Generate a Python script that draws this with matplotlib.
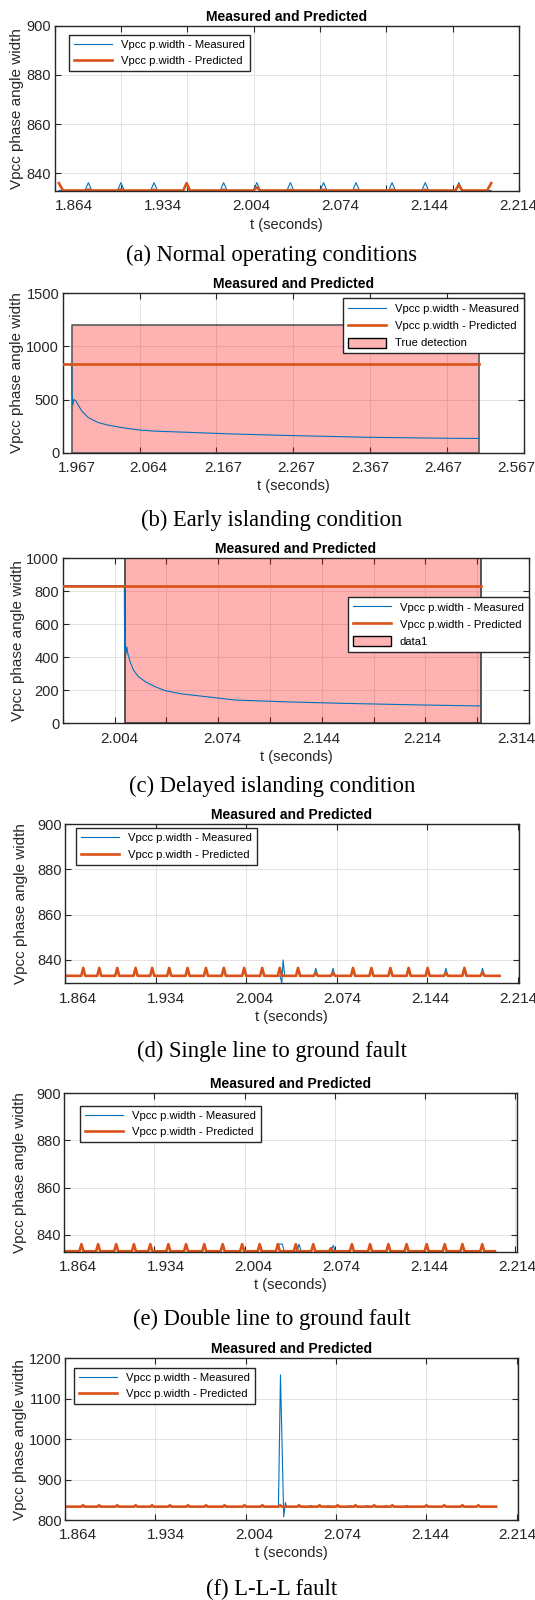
import numpy as np
import matplotlib
matplotlib.use('Agg')
import matplotlib.pyplot as plt
import matplotlib.patches as mpatches

W, H = 535, 1600
plt.rcParams['font.family'] = ['Liberation Sans', 'DejaVu Sans']

BLUE = '#0072BD'
ORANGE = '#D95319'
PINK = '#FFB3B3'
DARK = '#262626'

captions = ['(a) Normal operating conditions', '(b) Early islanding condition',
            '(c) Delayed islanding condition', '(d) Single line to ground fault',
            '(e) Double line to ground fault', '(f) L-L-L fault']

# (a) normal operation: spike times / heights
a_ticks = ['1.864', '1.934', '2.004', '2.074', '2.144', '2.214']
a_peak_t = [1.8756, 1.9012, 1.9273, 1.9529, 1.9820, 2.0081, 2.0345, 2.0606, 2.0862, 2.1145, 2.1406, 2.1670]
a_meas_y = [836.2] * 12
a_pred_y = [833.4, 833.4, 833.3, 836.0, 833.3, 834.3, 833.2, 833.3, 833.2, 833.3, 833.3, 835.2]
a_pred_end_t = [1.8524, 2.1925]
a_pred_end_y = [836.0, 836.0]

# (b) early islanding
b_ticks = ['1.967', '2.064', '2.167', '2.267', '2.367', '2.467', '2.567']
b_meas_t = [1.9474, 1.9597, 1.9600, 1.9612, 1.9625, 1.9651, 1.9732, 1.9822, 1.9958, 2.0094,
            2.0276, 2.0501, 2.0728, 2.1180, 2.1562, 2.1814, 2.2613, 2.3646, 2.4697, 2.5158]
b_meas_y = [833, 833, 568, 449, 500, 490, 395, 331, 284, 259,
            237, 215, 203, 192, 182, 176, 161, 145, 136, 134]
b_pred_t = [1.9474, 2.5158]
b_pred_y = [833, 833]
b_detect = (1.9599, 2.5158, 1200)

# (c) delayed islanding
c_ticks = ['2.004', '2.074', '2.144', '2.214', '2.314']
c_tick_pos = [2.004, 2.0757, 2.144, 2.2141, 2.2793]
c_meas_t = [1.9648, 2.0075, 2.0077, 2.0080, 2.0085, 2.0092, 2.0099, 2.0115, 2.0138, 2.0172,
            2.0219, 2.0288, 2.0357, 2.0473, 2.0635, 2.0843, 2.1200, 2.1587, 2.2140, 2.2549]
c_meas_y = [834, 834, 444, 509, 414, 464, 424, 374, 323, 283,
            253, 222, 198, 178, 162, 141, 130, 121, 111, 105]
c_pred_t = [1.9648, 2.2549]
c_pred_y = [834, 834]
c_detect = (2.0082, 2.2549, 1000)

fault_ticks = ['1.864', '1.934', '2.004', '2.074', '2.144', '2.214']

# (d) single line to ground
d_pred_t = [1.8681, 1.8808, 1.8951, 1.9097, 1.9229, 1.9364, 1.9510, 1.9656, 1.9798, 1.9960, 2.0103, 2.0243,
            2.0388, 2.0529, 2.0666, 2.0825, 2.0971, 2.1122, 2.1267, 2.1418, 2.1563, 2.1710, 2.1854]
d_pred_y = [836.5] * 13 + [834.3, 834.3] + [836.5] * 5 + [834.3, 836.5, 834.5]
d_meas_t = [1.8681, 1.8808, 1.8951, 1.9097, 1.9229, 1.9364, 1.9510, 1.9656, 1.9798, 1.9960, 2.0103,
            2.0388, 2.0529, 2.0666, 2.0825, 2.0971, 2.1122, 2.1267, 2.1418, 2.1563, 2.1710, 2.1854]
d_meas_y = [836.3] * 22
d_glitch_t = [2.0245, 2.0259, 2.0269, 2.0282]
d_glitch_y = [833, 829.7, 840, 833]

# (e) double line to ground
e_pred_t = [1.8667, 1.8800, 1.8944, 1.9085, 1.9216, 1.9360, 1.9501, 1.9646, 1.9793, 1.9948, 2.0088, 2.0233,
            2.0376, 2.0515, 2.0656, 2.0823, 2.0968, 2.1114, 2.1259, 2.1419, 2.1563, 2.1704, 2.1862]
e_pred_y = [836.0] * 14 + [834.3] + [836.0] * 8
e_meas_t = [1.8667, 1.8800, 1.8944, 1.9085, 1.9216, 1.9360, 1.9501, 1.9646, 1.9793, 1.9948, 2.0088,
            2.0402, 2.0515, 2.0674, 2.0823, 2.0968, 2.1114, 2.1259, 2.1419, 2.1563, 2.1704, 2.1862]
e_meas_y = [836.0] * 13 + [835.5] + [836.0] * 8
e_plateau_t = [2.0218, 2.0230, 2.0269, 2.0283]
e_plateau_y = [833, 836, 836, 833]

# (f) L-L-L fault
f_pred_t = [1.8680, 1.8808, 1.8952, 1.9099, 1.9229, 1.9371, 1.9515, 1.9659, 1.9806, 1.9964, 2.0107,
            2.0249, 2.0399, 2.0562, 2.0706, 2.0848, 2.0997, 2.1141, 2.1413, 2.1554, 2.1699, 2.1826]
f_pred_y = [836.5] * 22
f_meas_t = [2.0494, 2.0631, 2.0807, 2.0943, 2.1093, 2.1255, 2.1554, 2.1826]
f_meas_y = [836.0] * 8
f_glitch_t = [2.0235, 2.0251, 2.0277, 2.0290, 2.0300]
f_glitch_y = [833, 1159, 808, 843, 833]


def trace(t0, t1, base, peak_t, peak_y, hw, extra_t=(), extra_y=()):
    pts = [(t0, base), (t1, base)]
    for tc, h in zip(peak_t, peak_y):
        pts += [(tc - hw, base), (tc, h), (tc + hw, base)]
    pts += list(zip(extra_t, extra_y))
    pts.sort()
    t, y = zip(*pts)
    return np.array(t), np.array(y)


fig = plt.figure(figsize=(W / 100, H / 100), dpi=100)


def make_axes(left, top, right, bottom):
    return fig.add_axes([left / W, 1 - bottom / H, (right - left) / W, (bottom - top) / H])


def style(ax, xlim, ngrid, ylim, yticks, lab_pos, lab_txt, ylab_x):
    ax.set_xlim(xlim)
    ax.set_ylim(ylim)
    ax.set_xticks(np.linspace(xlim[0], xlim[1], ngrid + 1), labels=[''] * (ngrid + 1))
    ax.set_xticks(lab_pos, labels=lab_txt, minor=True)
    ax.set_yticks(yticks)
    ax.tick_params(which='major', direction='in', length=4, width=0.8, top=True, right=True,
                   colors=DARK, labelsize=10.5, pad=2.5)
    ax.tick_params(axis='x', which='minor', length=0, pad=6, labelsize=11, labelcolor=DARK)
    ax.grid(True, which='major', color='#DEDEDE', lw=0.6)
    ax.set_axisbelow(True)
    for s in ax.spines.values():
        s.set_color(DARK)
        s.set_linewidth(1.0)
    ax.set_title('Measured and Predicted', fontsize=10, fontweight='bold', pad=3.5)
    ax.set_xlabel('t (seconds)', fontsize=10.5, labelpad=3, color=DARK)
    ax.set_ylabel('Vpcc phase angle width', fontsize=11, color=DARK, va='center')
    pos = ax.get_position()
    ax.yaxis.set_label_coords(ylab_x / W, pos.y0 + pos.height / 2, transform=fig.transFigure)


def legend(ax, handles, x, y, **kw):
    labels = ['Vpcc p.width - Measured', 'Vpcc p.width - Predicted', 'True detection']
    labs = kw.pop('labels', labels[:len(handles)])
    leg = ax.legend(handles, labs, loc='upper left', bbox_to_anchor=(x / W, 1 - y / H),
                    bbox_transform=fig.transFigure, borderaxespad=0, fontsize=8.1,
                    handlelength=3.4, handletextpad=0.8, fancybox=False, framealpha=1,
                    edgecolor=DARK, borderpad=0.45, labelspacing=0.55, **kw)
    leg.get_frame().set_linewidth(1.0)


LW_M, LW_P = 0.8, 1.9

# ---- (a)
ax = make_axes(54.8, 25.7, 518.8, 191)
t, y = trace(1.8524, 2.1925, 833, a_peak_t, a_meas_y, 0.0027)
lm, = ax.plot(t, y, color=BLUE, lw=LW_M)
t, y = trace(1.8556, 2.1893, 833, a_peak_t, a_pred_y, 0.0027, a_pred_end_t, a_pred_end_y)
lp, = ax.plot(t, y, color=ORANGE, lw=LW_P)
style(ax, (1.8492, 2.2142), 7, (832.8, 900), [840, 860, 880, 900],
      [float(s) for s in a_ticks], a_ticks, 17)
legend(ax, [lm, lp], 68.5, 35)

# ---- (b)
ax = make_axes(62.7, 293.3, 524, 452.7)
ax.fill_between([b_detect[0], b_detect[1]], 0, b_detect[2], facecolor=(1, 0, 0, 0.3),
                edgecolor='#5a5a5a', lw=1.2, zorder=1)
lm, = ax.plot(b_meas_t, b_meas_y, color=BLUE, lw=LW_M, zorder=3)
lp, = ax.plot(b_pred_t, b_pred_y, color=ORANGE, lw=LW_P, zorder=4)
style(ax, (1.9474, 2.5775), 6, (0, 1500), [0, 500, 1000, 1500],
      [float(s) for s in b_ticks], b_ticks, 17)
pb = mpatches.Patch(facecolor=PINK, edgecolor='black', lw=1)
legend(ax, [lm, lp, pb], 342.5, 298.3, handleheight=1.0)

# ---- (c)
ax = make_axes(62.7, 558.3, 529.1, 723.3)
ax.fill_between([c_detect[0], c_detect[1]], 0, c_detect[2], facecolor=(1, 0, 0, 0.3),
                edgecolor='#3a3a3a', lw=1.2, zorder=1)
lm, = ax.plot(c_meas_t, c_meas_y, color=BLUE, lw=LW_M, zorder=3)
lp, = ax.plot(c_pred_t, c_pred_y, color=ORANGE, lw=LW_P, zorder=4)
style(ax, (1.9648, 2.2880), 9, (0, 1000), [0, 200, 400, 600, 800, 1000],
      c_tick_pos, c_ticks, 17.6)
pc = mpatches.Patch(facecolor=PINK, edgecolor='black', lw=1)
legend(ax, [lm, lp, pc], 347.5, 596.7, handleheight=1.0,
       labels=['Vpcc p.width - Measured', 'Vpcc p.width - Predicted', 'data1'])

# ---- (d)
ax = make_axes(65, 824, 518.5, 983.3)
t, y = trace(1.8536, 2.1990, 833, d_meas_t, d_meas_y, 0.0016, d_glitch_t, d_glitch_y)
lm, = ax.plot(t, y, color=BLUE, lw=LW_M)
t, y = trace(1.8536, 2.1990, 833, d_pred_t, d_pred_y, 0.0016)
lp, = ax.plot(t, y, color=ORANGE, lw=LW_P)
style(ax, (1.8536, 2.2137), 5, (829.7, 900), [840, 860, 880, 900],
      [float(s) for s in fault_ticks], fault_ticks, 21.4)
legend(ax, [lm, lp], 76, 828.3)

# ---- (e)
ax = make_axes(64, 1093.3, 517.1, 1251.7)
t, y = trace(1.8528, 2.1963, 833, e_meas_t, e_meas_y, 0.0016, e_plateau_t, e_plateau_y)
lm, = ax.plot(t, y, color=BLUE, lw=LW_M)
t, y = trace(1.8528, 2.1963, 833, e_pred_t, e_pred_y, 0.0016)
lp, = ax.plot(t, y, color=ORANGE, lw=LW_P)
style(ax, (1.8528, 2.2126), 5, (832.8, 900), [840, 860, 880, 900],
      [float(s) for s in fault_ticks], fault_ticks, 20.5)
legend(ax, [lm, lp], 79.5, 1106)

# ---- (f)
ax = make_axes(65.1, 1358.3, 517.8, 1520)
t, y = trace(1.8537, 2.1967, 833, f_meas_t, f_meas_y, 0.0014, f_glitch_t, f_glitch_y)
lm, = ax.plot(t, y, color=BLUE, lw=LW_M)
t, y = trace(1.8537, 2.1967, 833, f_pred_t, f_pred_y, 0.0014)
lp, = ax.plot(t, y, color=ORANGE, lw=LW_P)
style(ax, (1.8537, 2.2131), 5, (800, 1200), [800, 900, 1000, 1100, 1200],
      [float(s) for s in fault_ticks], fault_ticks, 19.7)
legend(ax, [lm, lp], 73.6, 1367.7)

cap_y = [255, 520, 786, 1051, 1319, 1589]
for txt, cy in zip(captions, cap_y):
    fig.text(272 / W, 1 - cy / H, txt, ha='center', va='center',
             family='Liberation Serif', fontsize=16.3)

fig.savefig('out.png', dpi=100)
